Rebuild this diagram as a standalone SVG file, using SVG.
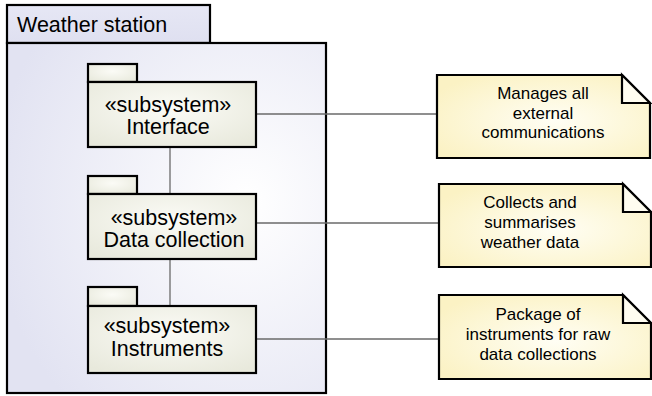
<svg xmlns="http://www.w3.org/2000/svg" width="652" height="396" viewBox="0 0 652 396">
<defs>
<radialGradient id="pkgGrad" cx="0.75" cy="0.45" r="0.8">
<stop offset="0" stop-color="#ffffff"/>
<stop offset="1" stop-color="#e2e3f2"/>
</radialGradient>
<linearGradient id="tabGrad" x1="0" y1="0" x2="0" y2="1">
<stop offset="0" stop-color="#e6e7f5"/>
<stop offset="1" stop-color="#dfe0f0"/>
</linearGradient>
<radialGradient id="subGrad" cx="0.5" cy="0.4" r="0.7">
<stop offset="0" stop-color="#fbfbf6"/>
<stop offset="1" stop-color="#e8e9dc"/>
</radialGradient>
<radialGradient id="noteGrad" cx="0.55" cy="0.55" r="0.65">
<stop offset="0" stop-color="#fffef4"/>
<stop offset="1" stop-color="#fbf2c4"/>
</radialGradient>
</defs>
<style>
.pkg{stroke:#000;stroke-width:2.2;}
.sub{fill:url(#subGrad);stroke:#000;stroke-width:2.2;}
.note{fill:url(#noteGrad);stroke:#000;stroke-width:2.2;stroke-linejoin:miter;}
.fold{fill:#fffdf0;stroke:#000;stroke-width:2.2;}
.conn{stroke:#6a6a6a;stroke-width:1.3;fill:none;}
.t{font-family:"Liberation Sans",Arial,sans-serif;fill:#000;}
.big{font-size:21.5px;}
.small{font-size:17px;}
</style>

<g id="weather-station">
<rect class="pkg" x="7" y="5" width="203" height="38" fill="url(#tabGrad)"/>
<rect class="pkg" x="7" y="43" width="319" height="350" fill="url(#pkgGrad)"/>
<text class="t big" x="17" y="32">Weather station</text>
</g>

<g id="connectors">
<line class="conn" x1="170" y1="147" x2="170" y2="194"/>
<line class="conn" x1="170" y1="259" x2="170" y2="306"/>
<line class="conn" x1="256" y1="114" x2="437" y2="114"/>
<line class="conn" x1="256" y1="223" x2="439" y2="223"/>
<line class="conn" x1="256" y1="339" x2="439" y2="339"/>
</g>

<g id="interface">
<rect class="sub" x="88" y="64" width="49" height="18"/>
<rect class="sub" x="88" y="82" width="168" height="65"/>
<text class="t big" text-anchor="middle" x="168" y="112">«subsystem»</text>
<text class="t big" text-anchor="middle" x="168" y="134">Interface</text>
</g>

<g id="data-collection">
<rect class="sub" x="88" y="176" width="49" height="18"/>
<rect class="sub" x="88" y="194" width="168" height="65"/>
<text class="t big" text-anchor="middle" x="174" y="225">«subsystem»</text>
<text class="t big" text-anchor="middle" x="174" y="247">Data collection</text>
</g>

<g id="instruments">
<rect class="sub" x="88" y="287" width="49" height="19"/>
<rect class="sub" x="88" y="306" width="168" height="67"/>
<text class="t big" text-anchor="middle" x="167" y="333">«subsystem»</text>
<text class="t big" text-anchor="middle" x="167" y="356">Instruments</text>
</g>

<g id="note-interface">
<path class="note" d="M437,75 H622 L650,103 V158 H437 Z"/>
<path class="fold" d="M622,75 V103 H650 Z"/>
<text class="t small" text-anchor="middle" x="543" y="99">Manages all</text>
<text class="t small" text-anchor="middle" x="543" y="119">external</text>
<text class="t small" text-anchor="middle" x="543" y="138">communications</text>
</g>

<g id="note-data-collection">
<path class="note" d="M439,184 H623 L651,212 V267 H439 Z"/>
<path class="fold" d="M623,184 V212 H651 Z"/>
<text class="t small" text-anchor="middle" x="530" y="208">Collects and</text>
<text class="t small" text-anchor="middle" x="530" y="228">summarises</text>
<text class="t small" text-anchor="middle" x="530" y="248">weather data</text>
</g>

<g id="note-instruments">
<path class="note" d="M439,295 H623 L651,323 V379 H439 Z"/>
<path class="fold" d="M623,295 V323 H651 Z"/>
<text class="t small" text-anchor="middle" x="538" y="320">Package of</text>
<text class="t small" text-anchor="middle" x="538" y="340">instruments for raw</text>
<text class="t small" text-anchor="middle" x="538" y="360">data collections</text>
</g>
</svg>
